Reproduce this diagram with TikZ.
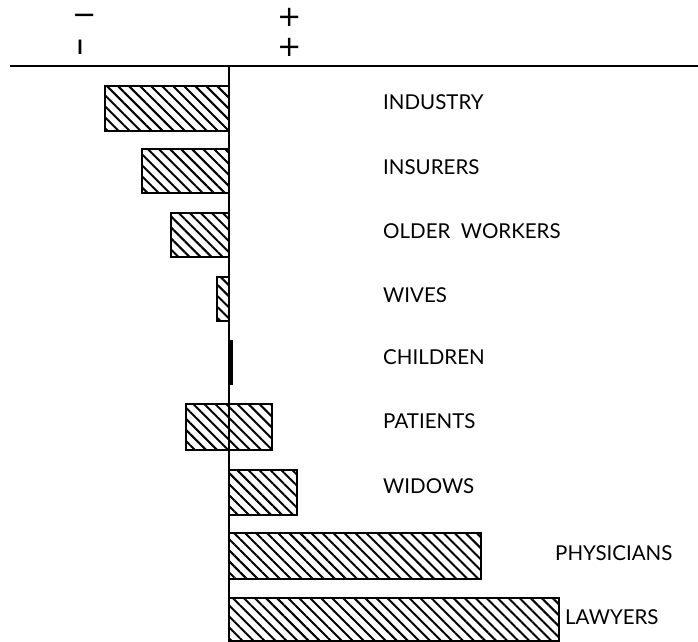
\documentclass[tikz,border=0pt]{standalone}
\usepackage{fontspec}
\setmainfont{Lato}
\newfontfamily\symfont{DejaVu Sans}
\usetikzlibrary{patterns.meta}
\tikzset{
  hbar/.style={draw=black, line width=2.4pt, pattern={Lines[angle=-45,distance=7.8pt,line width=2pt]}},
  lbl/.style={anchor=west, inner sep=0pt, font=\fontsize{20.5}{20.5}\selectfont},
  sym/.style={inner sep=0pt, font=\symfont\fontsize{29}{29}\selectfont},
  axis/.style={line width=2.4pt}
}
\begin{document}
\begin{tikzpicture}[x=1pt,y=-1pt]
\useasboundingbox (0,0) rectangle (698,641);
% axes
\coordinate (al) at (10,66);
\coordinate (ar) at (698,66);
\coordinate (vt) at (229,66);
\coordinate (vb) at (229,641);
\draw[axis] (al) -- (ar);
\draw[axis] (vt) -- (vb);
% top symbols
\node[sym] (m1) at (85,19) {−};
\node[inner sep=0pt, font=\fontsize{20}{20}\selectfont\bfseries] (m2) at (80,47) {I};
\node[sym] (p1) at (290,17) {+};
\node[sym] (p2) at (290,47) {+};
% bars
\draw[hbar] (105,86) rectangle (229,131);
\draw[hbar] (142,149) rectangle (229,193);
\draw[hbar] (171,213) rectangle (229,257);
\draw[hbar] (217,277) rectangle (229,321);
\fill[black] (229,340) rectangle (233,385);
\draw[hbar] (186,404) rectangle (272,450);
\draw[hbar] (229,470) rectangle (297,515);
\draw[hbar] (229,533) rectangle (481,579);
\draw[hbar] (229,598) rectangle (559,641);
% labels
\node[lbl] (l1) at (383,102) {INDUSTRY};
\node[lbl] (l2) at (383,167) {INSURERS};
\node[lbl] (l3) at (383,231) {OLDER\ \ WORKERS};
\node[lbl] (l4) at (383,295) {WIVES};
\node[lbl] (l5) at (383,357) {CHILDREN};
\node[lbl] (l6) at (383,421) {PATIENTS};
\node[lbl] (l7) at (383,486) {WIDOWS};
\node[lbl] (l8) at (555,553) {PHYSICIANS};
\node[lbl] (l9) at (565,617) {LAWYERS};
\end{tikzpicture}
\end{document}
